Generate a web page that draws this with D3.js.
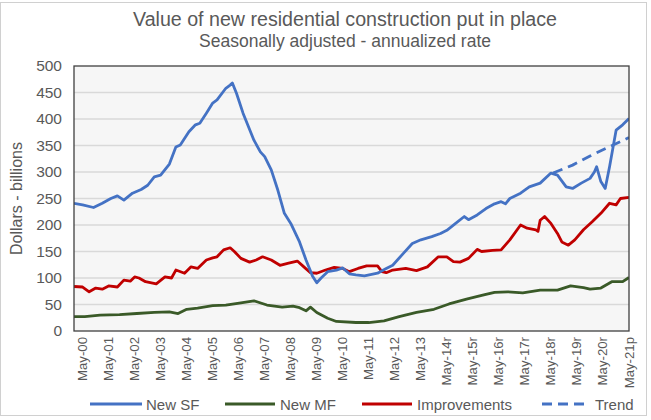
<!DOCTYPE html>
<html><head><meta charset="utf-8">
<script src="https://cdn.jsdelivr.net/npm/d3@7"></script>
<style>
html,body{margin:0;padding:0;background:#fff;}
svg{display:block;font-family:"Liberation Sans",Arial,sans-serif;}
</style></head>
<body>
<svg id="chart" width="651" height="420"></svg>
<script>
// ---- DATA (month, value in $ billions, SAAR) ----
const title = "Value of new residential construction put in place";
const subtitle = "Seasonally adjusted - annualized rate";
const yTicks = [0,50,100,150,200,250,300,350,400,450,500];
const xTickLabels = ["May-00","May-01","May-02","May-03","May-04","May-05","May-06","May-07","May-08","May-09","May-10","May-11","May-12","May-13","May-14r","May-15r","May-16r","May-17r","May-18r","May-19r","May-20r","May-21p"];
const seriesNames = ["New SF","New MF","Improvements","Trend"];

const newSF = [["2000-01",241],["2000-05",238],["2000-10",233],["2001-02",241],["2001-06",250],["2001-09",255],["2001-12",247],["2002-04",260],["2002-08",267],["2002-11",275],["2003-02",291],["2003-05",294],["2003-09",315],["2003-12",347],["2004-02",351],["2004-06",376],["2004-09",389],["2004-11",392],["2005-02",411],["2005-05",430],["2005-07",436],["2005-11",458],["2006-01",464],["2006-02",468],["2006-04",448],["2006-07",411],["2006-12",360],["2007-03",338],["2007-05",329],["2007-08",304],["2007-11",266],["2008-02",222],["2008-05",203],["2008-09",168],["2008-12",134],["2009-03",104],["2009-05",91],["2009-07",100],["2009-10",112],["2010-02",115],["2010-05",119],["2010-08",108],["2010-11",106],["2011-03",104],["2011-09",109],["2012-01",118],["2012-04",124],["2012-09",147],["2013-01",165],["2013-05",172],["2013-10",178],["2014-02",184],["2014-05",190],["2014-09",203],["2015-01",216],["2015-03",210],["2015-07",219],["2015-11",231],["2016-03",240],["2016-06",244],["2016-08",240],["2016-10",250],["2017-03",260],["2017-07",272],["2017-12",279],["2018-05",298],["2018-08",294],["2018-12",272],["2019-03",269],["2019-07",279],["2019-11",288],["2020-01",300],["2020-02",310],["2020-04",282],["2020-06",269],["2020-08",310],["2020-11",379],["2021-02",389],["2021-05",401]];

const newMF = [["2000-01",27],["2000-06",27],["2001-01",30],["2001-10",31],["2002-06",33],["2003-02",35],["2003-09",36],["2004-01",33],["2004-05",41],["2004-10",43],["2005-05",48],["2005-11",49],["2006-06",53],["2006-12",57],["2007-06",49],["2008-01",45],["2008-06",47],["2008-09",44],["2008-12",38],["2009-02",45],["2009-05",35],["2009-10",24],["2010-02",18],["2010-11",16],["2011-05",16],["2011-12",19],["2012-07",27],["2013-03",35],["2013-11",41],["2014-06",51],["2015-02",60],["2015-10",68],["2016-03",73],["2016-09",74],["2017-04",72],["2017-12",77],["2018-08",77],["2019-02",85],["2019-08",82],["2019-11",79],["2020-04",81],["2020-09",93],["2021-02",93],["2021-05",101]];

const improvements = [["2000-01",84],["2000-05",83],["2000-08",74],["2000-11",81],["2001-02",79],["2001-05",85],["2001-09",83],["2001-12",96],["2002-03",94],["2002-05",102],["2002-07",100],["2002-10",93],["2003-03",89],["2003-07",102],["2003-10",100],["2003-12",115],["2004-04",109],["2004-07",121],["2004-10",118],["2005-02",134],["2005-05",138],["2005-07",140],["2005-10",153],["2006-01",157],["2006-03",150],["2006-06",137],["2006-10",130],["2007-01",134],["2007-04",140],["2007-08",134],["2007-12",124],["2008-04",128],["2008-08",132],["2008-11",121],["2009-02",110],["2009-05",109],["2009-09",115],["2010-01",120],["2010-05",118],["2010-08",112],["2010-12",118],["2011-04",123],["2011-09",123],["2011-11",112],["2012-01",110],["2012-04",115],["2012-10",118],["2013-03",114],["2013-08",121],["2014-01",140],["2014-05",140],["2014-08",131],["2014-11",130],["2015-03",137],["2015-07",154],["2015-09",150],["2016-02",152],["2016-06",153],["2016-10",172],["2017-03",200],["2017-06",194],["2017-10",191],["2017-11",188],["2017-12",209],["2018-02",216],["2018-05",203],["2018-08",184],["2018-10",168],["2019-01",162],["2019-04",172],["2019-08",191],["2019-12",206],["2020-04",222],["2020-08",241],["2020-11",238],["2021-01",250],["2021-05",252]];

const trend = [["2018-06",298],["2019-03",313],["2019-11",330],["2020-07",346],["2021-05",365]];

// ---- LAYOUT ----
const W = 651, H = 420;
const M = {left:74, top:66, right:629, bottom:331};
const svg = d3.select("#chart");
const parse = d3.timeParse("%Y-%m");
const gray = "#595959";

svg.append("rect").attr("x",0.5).attr("y",2.5).attr("width",646).attr("height",413)
  .attr("fill","#fff").attr("stroke","#d0d0d0");

const x = d3.scaleTime().domain([parse("2000-01"), parse("2021-05")]).range([M.left, M.right]);
const y = d3.scaleLinear().domain([0,500]).range([M.bottom, M.top]);

// plot background
svg.append("rect").attr("x",M.left).attr("y",M.top).attr("width",M.right-M.left).attr("height",M.bottom-M.top)
  .attr("fill","#f6f6f6");

// gridlines
svg.append("g").selectAll("line").data(yTicks.filter(d=>d>0&&d<500)).join("line")
  .attr("x1",M.left).attr("x2",M.right).attr("y1",d=>y(d)).attr("y2",d=>y(d))
  .attr("stroke","#d9d9d9").attr("stroke-width",1.3);

// y axis labels
const yAxis = d3.axisLeft(y).tickValues(yTicks).tickSize(0).tickPadding(12);
const gy = svg.append("g").attr("transform",`translate(${M.left},0)`).call(yAxis);
gy.select(".domain").remove();
gy.selectAll("text").attr("fill",gray).attr("font-size","15.5px").attr("font-family","'Liberation Sans',Arial,sans-serif");

// x axis: ticks every 6 months from May-00, labels every May
const labelDates = xTickLabels.map((d,i)=>new Date(2000+i,4,1));
const tickDates = d3.timeMonth.every(6).range(new Date(2000,4,1), new Date(2021,5,1)).filter(d=>d.getMonth()===4||d.getMonth()===10);
const gx = svg.append("g");
gx.selectAll("line").data(tickDates).join("line")
  .attr("x1",d=>x(d)).attr("x2",d=>x(d)).attr("y1",M.bottom).attr("y2",M.bottom-4)
  .attr("stroke","#404040").attr("stroke-width",1);
gx.selectAll("text").data(labelDates).join("text")
  .attr("transform",d=>`translate(${x(d)+4.5},${M.bottom+6}) rotate(-90)`)
  .attr("text-anchor","end").attr("fill",gray).attr("font-size","13.2px")
  .text((d,i)=>xTickLabels[i]);

// lines
const line = d3.line().x(d=>x(parse(d[0]))).y(d=>y(d[1]));
const clip = svg.append("clipPath").attr("id","clip").append("rect")
  .attr("x",M.left).attr("y",M.top).attr("width",M.right-M.left).attr("height",M.bottom-M.top);
const gl = svg.append("g").attr("clip-path","url(#clip)");
gl.append("path").datum(newMF).attr("d",line).attr("fill","none").attr("stroke","#3a5a28").attr("stroke-width",2.8).attr("stroke-linejoin","round");
gl.append("path").datum(improvements).attr("d",line).attr("fill","none").attr("stroke","#c00000").attr("stroke-width",2.8).attr("stroke-linejoin","round");
gl.append("path").datum(trend).attr("d",line).attr("fill","none").attr("stroke","#4472c4").attr("stroke-width",2.8).attr("stroke-dasharray","10,6");
gl.append("path").datum(newSF).attr("d",line).attr("fill","none").attr("stroke","#4472c4").attr("stroke-width",2.8).attr("stroke-linejoin","round");

// plot border
svg.append("rect").attr("x",M.left).attr("y",M.top).attr("width",M.right-M.left).attr("height",M.bottom-M.top)
  .attr("fill","none").attr("stroke","#404040").attr("stroke-width",1.3);

// titles
svg.append("text").attr("x",345).attr("y",26).attr("text-anchor","middle").attr("fill",gray)
  .attr("font-size","19.5px").attr("textLength",424).attr("lengthAdjust","spacingAndGlyphs").text(title);
svg.append("text").attr("x",345).attr("y",47).attr("text-anchor","middle").attr("fill",gray)
  .attr("font-size","17.5px").attr("textLength",292).attr("lengthAdjust","spacingAndGlyphs").text(subtitle);
svg.append("text").attr("transform",`translate(22,${(M.top+M.bottom)/2}) rotate(-90)`)
  .attr("text-anchor","middle").attr("fill",gray).attr("font-size","16px").text("Dollars - billions");

// legend
const legend = [
  {name:seriesNames[0], color:"#4472c4", dash:null, x1:90, x2:142, tx:146},
  {name:seriesNames[1], color:"#3a5a28", dash:null, x1:225, x2:275, tx:280},
  {name:seriesNames[2], color:"#c00000", dash:null, x1:362, x2:412, tx:417},
  {name:seriesNames[3], color:"#4472c4", dash:"10,6", x1:542, x2:590, tx:595}
];
const lg = svg.append("g");
legend.forEach(l=>{
  lg.append("line").attr("x1",l.x1).attr("x2",l.x2).attr("y1",404).attr("y2",404)
    .attr("stroke",l.color).attr("stroke-width",2.8).attr("stroke-dasharray",l.dash);
  lg.append("text").attr("x",l.tx).attr("y",409.5).attr("fill",gray).attr("font-size","15px").text(l.name);
});
</script>
</body></html>
